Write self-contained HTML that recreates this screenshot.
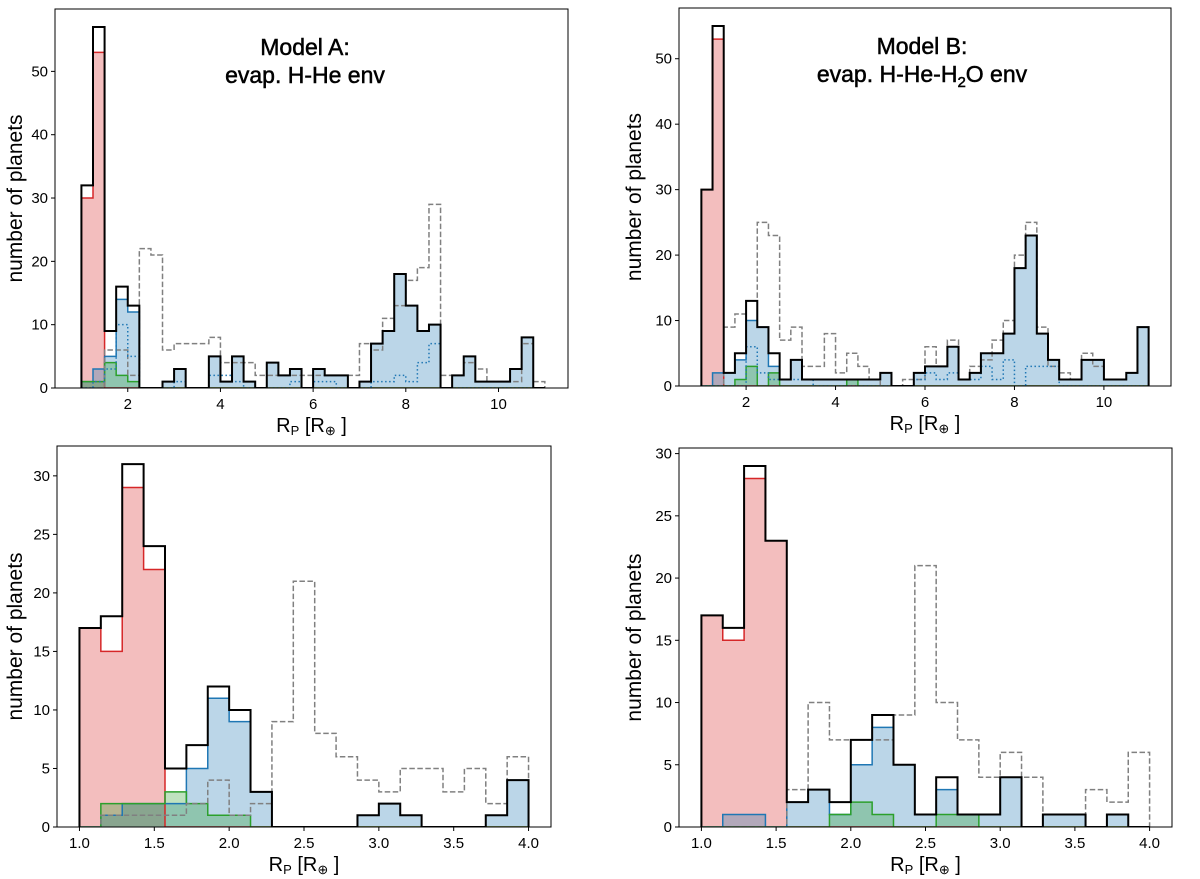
<!DOCTYPE html>
<html><head><meta charset="utf-8"><style>
body{margin:0;background:#fff;}
svg{display:block;font-family:"Liberation Sans",sans-serif;}
</style></head><body>
<svg id="fig" width="1200" height="879" viewBox="0 0 1200 879" xmlns="http://www.w3.org/2000/svg"></svg>
<script>
// ---- Data: top panels (bins of 0.25 from 1 to 11) ----
const blackA=[32,57,9,16,13,0,0,1,3,0,0,5,1,5,1,0,4,2,3,0,3,2,2,0,1,7,9,18,13,9,10,0,2,5,1,1,1,3,8,0];
const redA=[30,53,0,0,0,0,0,0,0,0,0,0,0,0,0,0,0,0,0,0,0,0,0,0,0,0,0,0,0,0,0,0,0,0,0,0,0,0,0,0];
const blueA=[1,3,5,14,12,0,0,1,3,0,0,5,1,5,1,0,4,2,3,0,3,2,2,0,1,7,9,18,13,9,10,0,2,5,1,1,1,3,8,0];
const greenA=[1,1,4,2,1,0,0,0,0,0,0,0,0,0,0,0,0,0,0,0,0,0,0,0,0,0,0,0,0,0,0,0,0,0,0,0,0,0,0,0];
const greyA=[0,0,6,6,2,22,21,6,7,7,7,8,4,4,4,2,2,2,2,2,2,2,2,2,7,6,11,13,17,19,29,2,2,4,3,1,1,1,7,1];
const dottedA=[0,1,3,10,5,0,0,0,1,0,0,2,2,1,0,0,0,0,1,0,1,1,0,0,0,1,1,2,1,4,7,0,0,0,0,0,0,0,0,0];

const blackB=[30,55,2,5,13,9,5,1,4,1,1,1,1,1,1,1,2,0,0,2,3,3,6,1,2,5,5,8,18,23,8,4,1,1,4,4,1,1,2,9];
const redB=[30,53,0,0,0,0,0,0,0,0,0,0,0,0,0,0,0,0,0,0,0,0,0,0,0,0,0,0,0,0,0,0,0,0,0,0,0,0,0,0];
const blueB=[0,2,2,4,10,9,3,1,4,1,1,1,1,1,1,1,2,0,0,2,3,3,6,1,2,5,5,8,18,23,8,4,1,1,4,4,1,1,2,9];
const greenB=[0,0,0,1,3,0,2,0,0,0,0,0,0,1,0,0,0,0,0,0,0,0,0,0,0,0,0,0,0,0,0,0,0,0,0,0,0,0,0,0];
const greyB=[0,0,9,11,13,25,23,7,9,3,3,8,2,5,3,1,0,0,1,1,6,3,7,1,3,4,7,10,20,25,9,3,2,1,5,3,1,1,2,9];
const dottedB=[0,0,0,0,6,2,1,1,1,1,0,0,0,0,0,0,0,0,0,1,2,1,2,1,1,3,1,4,0,3,3,3,0,0,0,0,0,0,0,0];

// ---- Data: bottom panels (21 bins from 1 to 4) ----
const blackC=[17,18,31,24,5,7,12,10,3,0,0,0,0,1,2,1,0,0,0,1,4];
const redC=[17,15,29,22,0,0,0,0,0,0,0,0,0,0,0,0,0,0,0,0,0];
const blueC=[0,1,2,2,2,5,11,9,3,0,0,0,0,1,2,1,0,0,0,1,4];
const greenC=[0,2,2,2,3,2,1,1,0,0,0,0,0,0,0,0,0,0,0,0,0];
const greyC=[0,1,1,1,1,2,4,1,2,9,21,8,6,4,3,5,5,3,5,2,6];

const blackD=[17,16,29,23,2,3,2,7,9,5,1,4,1,1,4,0,1,1,0,1,0];
const redD=[17,15,28,23,0,0,0,0,0,0,0,0,0,0,0,0,0,0,0,0,0];
const blueD=[0,1,1,0,2,3,1,5,8,5,1,3,1,1,4,0,1,1,0,1,0];
const greenD=[0,0,0,0,0,0,1,2,1,0,0,1,1,0,0,0,0,0,0,0,0];
const greyD=[0,0,0,0,3,10,7,7,7,9,21,10,7,4,6,4,1,1,3,2,6];

const xticksTop=[2,4,6,8,10];
const yticksTop=[0,10,20,30,40,50];
const xticksBot=[1.0,1.5,2.0,2.5,3.0,3.5,4.0];
const yticksBot=[0,5,10,15,20,25,30];

const NS="http://www.w3.org/2000/svg";
const fig=document.getElementById('fig');
function mk(tag,attrs,parent){const e=document.createElementNS(NS,tag);for(const k in attrs)e.setAttribute(k,attrs[k]);(parent||fig).appendChild(e);return e;}

function panel(p){
  const g=mk('g',{});
  
  
  const ymax=Math.max(...p.black)*1.05;
  const X=v=>p.x0+(v-p.xa)*(p.x1-p.x0)/(p.xb-p.xa);
  const Y=v=>p.b-v*(p.b-p.t)/ymax;
  const n=p.black.length, w=(p.hi-p.lo)/n;
  function step(arr,closed){
    let d='M'+X(p.lo)+','+Y(0);
    for(let i=0;i<n;i++){d+=' L'+X(p.lo+i*w)+','+Y(arr[i])+' L'+X(p.lo+(i+1)*w)+','+Y(arr[i]);}
    d+=' L'+X(p.hi)+','+Y(0);
    if(closed)d+=' Z';
    return d;
  }
  const cp=mk('clipPath',{id:'c'+p.name},g);
  mk('rect',{x:p.x0,y:p.t,width:p.x1-p.x0,height:p.b-p.t},cp);
  const inner=mk('g',{'clip-path':'url(#c'+p.name+')'},g);
  const series=[[p.red,'#d62728','red-rocky'],[p.blue,'#1f77b4','blue-envelope'],[p.green,'#2ca02c','green-water']];
  for(const [arr,c,nm] of series){
    const f=mk('path',{d:step(arr,true),fill:c,'fill-opacity':0.3,stroke:'none'},inner);
    
    
  }
  for(const [arr,c,nm] of series){
    const l=mk('path',{d:step(arr,false),fill:'none',stroke:c,'stroke-width':1.5},inner);
    
    
  }
  const gr=mk('path',{d:step(p.grey,false),fill:'none',stroke:'#808080','stroke-width':1.5,'stroke-dasharray':'5.5,2.5'},inner);
  
  
  if(p.dotted){
    const dt=mk('path',{d:step(p.dotted,false),fill:'none',stroke:'#1f77b4','stroke-width':1.5,'stroke-dasharray':'1.5,2.5'},inner);
    
    
  }
  const bl=mk('path',{d:step(p.black,false),fill:'none',stroke:'#000','stroke-width':2},inner);
  
  
  const fr=mk('rect',{x:p.x0,y:p.t,width:p.x1-p.x0,height:p.b-p.t,fill:'none',stroke:'#000','stroke-width':1},g);
  
  
  for(const v of p.xt){
    const x=X(v);
    mk('line',{x1:x,x2:x,y1:p.b,y2:p.b+4,stroke:'#000','stroke-width':1},g);
    const t=mk('text',{x:x,y:p.b+21,'font-size':15,'text-anchor':'middle',fill:'#000'},g);
    t.textContent=p.fmt?v.toFixed(1):v;
    
    
  }
  for(const v of p.yt){
    const y=Y(v);
    mk('line',{x1:p.x0-4,x2:p.x0,y1:y,y2:y,stroke:'#000','stroke-width':1},g);
    const t=mk('text',{x:p.x0-7,y:y+5,'font-size':15,'text-anchor':'end',fill:'#000'},g);
    t.textContent=v;
    
    
  }
  const xl=mk('text',{x:(p.x0+p.x1)/2,y:p.b+44,'font-size':20,'text-anchor':'middle',fill:'#000'},g);
  xl.innerHTML='R<tspan font-size="13" dy="3">P</tspan><tspan dy="-3"> [R</tspan><tspan font-size="13" dy="3">⊕</tspan><tspan dy="-3"> ]</tspan>';
  
  
  const cy=(p.t+p.b)/2;
  const yl=mk('text',{x:p.ylx,y:cy,'font-size':21,'text-anchor':'middle',fill:'#000',transform:'rotate(-90 '+p.ylx+' '+cy+')'},g);
  yl.textContent='number of planets';
  
  
  if(p.title){
    const t1=mk('text',{x:p.tx,y:p.t+46,'font-size':23,'text-anchor':'middle',fill:'#000',stroke:'#000','stroke-width':0.5},g);
    t1.textContent=p.title[0];
    
    
    const t2=mk('text',{x:p.tx,y:p.t+74,'font-size':23,'text-anchor':'middle',fill:'#000',stroke:'#000','stroke-width':0.5},g);
    t2.innerHTML=p.title[1];
    
    
  }
}

panel({name:'panel-model-a',black:blackA,red:redA,blue:blueA,green:greenA,grey:greyA,dotted:dottedA,
  lo:1,hi:11,x0:55,x1:568,t:9,b:388,xa:0.43,xb:11.5,xt:xticksTop,yt:yticksTop,ylx:22,
  title:['Model A:','evap. H-He env'],tx:305});
panel({name:'panel-model-b',black:blackB,red:redB,blue:blueB,green:greenB,grey:greyB,dotted:dottedB,
  lo:1,hi:11,x0:679,x1:1171,t:8,b:386,xa:0.5,xb:11.5,xt:xticksTop,yt:yticksTop,ylx:641,
  title:['Model B:','evap. H-He-H<tspan font-size="15" dy="5">2</tspan><tspan dy="-5">O env</tspan>'],tx:922});
panel({name:'panel-model-a-zoom',black:blackC,red:redC,blue:blueC,green:greenC,grey:greyC,
  lo:1,hi:4,x0:57,x1:551,t:446,b:827,xa:0.85,xb:4.15,xt:xticksBot,yt:yticksBot,ylx:22,fmt:true});
panel({name:'panel-model-b-zoom',black:blackD,red:redD,blue:blueD,green:greenD,grey:greyD,
  lo:1,hi:4,x0:679,x1:1172,t:448,b:827,xa:0.85,xb:4.15,xt:xticksBot,yt:yticksBot,ylx:641,fmt:true});
</script>
</body></html>
